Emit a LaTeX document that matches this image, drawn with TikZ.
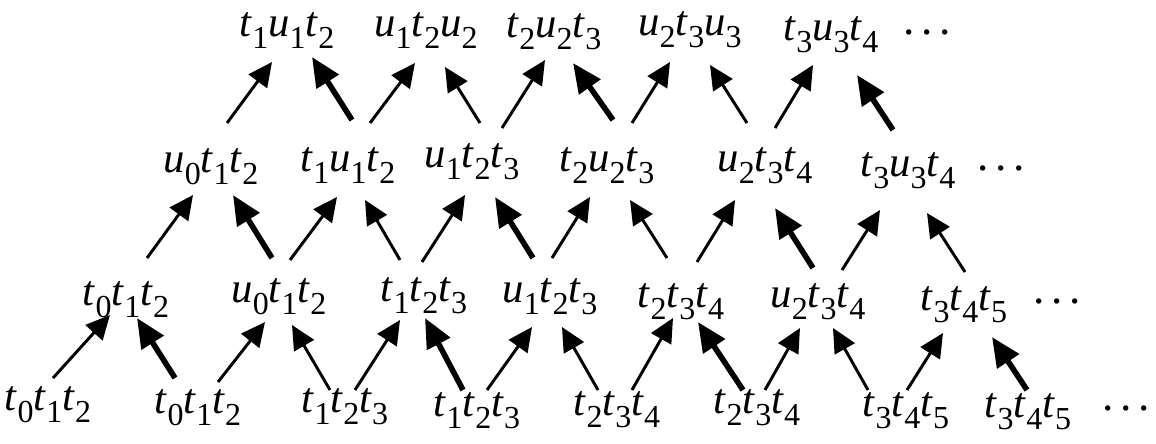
\documentclass[tikz,border=0pt]{standalone}
\usepackage{fontspec}
\usepackage{graphicx}
\setmainfont{Liberation Serif}
\usetikzlibrary{arrows.meta}
\newcommand{\sbx}[1]{\raisebox{-9.5pt}{\fontsize{24}{24}\selectfont #1}}
\newcommand{\tsub}[1]{\textit{t}\sbx{#1}}
\newcommand{\usub}[1]{\textit{u}\sbx{#1}}
\newcommand{\lbl}[1]{#1}
\newcommand{\dts}{\raisebox{4pt}{\fontsize{34}{34}\selectfont .\kern5pt.\kern5pt.}}
\tikzset{
  lab/.style={anchor=base, inner sep=0pt, font=\fontsize{32}{36}\selectfont},
  thinarr/.style={draw, line width=2.2pt, -{Triangle[length=18pt,width=17pt]}},
  thickarr/.style={draw, line width=4.2pt, -{Triangle[length=22pt,width=19pt]}},
}
\begin{document}
\begin{tikzpicture}[x=0.75pt,y=-0.75pt]
\useasboundingbox (0,0) rectangle (1156,443);
% row 1
\node[lab] (r10) at (287,36) {\lbl{\tsub{1}\usub{1}\tsub{2}}};
\node[lab] (r11) at (426,36) {\lbl{\usub{1}\tsub{2}\usub{2}}};
\node[lab] (r12) at (554,37) {\lbl{\tsub{2}\usub{2}\tsub{3}}};
\node[lab] (r13) at (690,35) {\lbl{\usub{2}\tsub{3}\usub{3}}};
\node[lab] (r14) at (831,40) {\lbl{\tsub{3}\usub{3}\tsub{4}}};
\node[lab] (r1d) at (927,40) {\dts};
% row 2
\node[lab] (r20) at (211,172) {\lbl{\usub{0}\tsub{1}\tsub{2}}};
\node[lab] (r21) at (348,171) {\lbl{\tsub{1}\usub{1}\tsub{2}}};
\node[lab] (r22) at (472,167) {\lbl{\usub{1}\tsub{2}\tsub{3}}};
\node[lab] (r23) at (607,171) {\lbl{\tsub{2}\usub{2}\tsub{3}}};
\node[lab] (r24) at (765,171) {\lbl{\usub{2}\tsub{3}\tsub{4}}};
\node[lab] (r25) at (908,176) {\lbl{\tsub{3}\usub{3}\tsub{4}}};
\node[lab] (r2d) at (1001,176) {\dts};
% row 3
\node[lab] (r30) at (126,305) {\lbl{\tsub{0}\tsub{1}\tsub{2}}};
\node[lab] (r31) at (279,302) {\lbl{\usub{0}\tsub{1}\tsub{2}}};
\node[lab] (r32) at (424,301) {\lbl{\tsub{1}\tsub{2}\tsub{3}}};
\node[lab] (r33) at (550,302) {\lbl{\usub{1}\tsub{2}\tsub{3}}};
\node[lab] (r34) at (681,307) {\lbl{\tsub{2}\tsub{3}\tsub{4}}};
\node[lab] (r35) at (818,307) {\lbl{\usub{2}\tsub{3}\tsub{4}}};
\node[lab] (r36) at (964,310) {\lbl{\tsub{3}\tsub{4}\tsub{5}}};
\node[lab] (r3d) at (1057,309) {\dts};
% row 4
\node[lab] (r40) at (48,410) {\lbl{\tsub{0}\tsub{1}\tsub{2}}};
\node[lab] (r41) at (198,413) {\lbl{\tsub{0}\tsub{1}\tsub{2}}};
\node[lab] (r42) at (345,412) {\lbl{\tsub{1}\tsub{2}\tsub{3}}};
\node[lab] (r43) at (477,416) {\lbl{\tsub{1}\tsub{2}\tsub{3}}};
\node[lab] (r44) at (617,415) {\lbl{\tsub{2}\tsub{3}\tsub{4}}};
\node[lab] (r45) at (757,413) {\lbl{\tsub{2}\tsub{3}\tsub{4}}};
\node[lab] (r46) at (906,416) {\lbl{\tsub{3}\tsub{4}\tsub{5}}};
\node[lab] (r47) at (1028,417) {\lbl{\tsub{3}\tsub{4}\tsub{5}}};
\node[lab] (r4d) at (1126,416) {\dts};
% row 4 -> row 3
\draw[thinarr]  ([shift={(5,-32)}]r40.base)   -- ([shift={(-16,10)}]r30.base);
\draw[thickarr] ([shift={(-23,-35)}]r41.base) -- ([shift={(11,13)}]r30.base);
\draw[thinarr]  ([shift={(20,-31)}]r41.base)  -- ([shift={(-14,20)}]r31.base);
\draw[thinarr]  ([shift={(-15,-22)}]r42.base) -- ([shift={(13,23)}]r31.base);
\draw[thinarr]  ([shift={(10,-22)}]r42.base)  -- ([shift={(-24,19)}]r32.base);
\draw[thickarr] ([shift={(-14,-26)}]r43.base) -- ([shift={(1,17)}]r32.base);
\draw[thinarr]  ([shift={(10,-26)}]r43.base)  -- ([shift={(-18,25)}]r33.base);
\draw[thinarr]  ([shift={(-19,-25)}]r44.base) -- ([shift={(12,25)}]r33.base);
\draw[thinarr]  ([shift={(15,-25)}]r44.base)  -- ([shift={(-8,11)}]r34.base);
\draw[thickarr] ([shift={(-14,-23)}]r45.base) -- ([shift={(17,15)}]r34.base);
\draw[thinarr]  ([shift={(8,-23)}]r45.base)   -- ([shift={(-18,21)}]r35.base);
\draw[thinarr]  ([shift={(-38,-26)}]r46.base) -- ([shift={(15,21)}]r35.base);
\draw[thinarr]  ([shift={(1,-26)}]r46.base)   -- ([shift={(-21,23)}]r36.base);
\draw[thickarr] ([shift={(-1,-27)}]r47.base)  -- ([shift={(28,27)}]r36.base);
% row 3 -> row 2
\draw[thinarr]  ([shift={(21,-47)}]r30.base)  -- ([shift={(-18,23)}]r20.base);
\draw[thickarr] ([shift={(-7,-44)}]r31.base)  -- ([shift={(22,23)}]r20.base);
\draw[thinarr]  ([shift={(11,-42)}]r31.base)  -- ([shift={(-11,26)}]r21.base);
\draw[thinarr]  ([shift={(-24,-41)}]r32.base) -- ([shift={(17,29)}]r21.base);
\draw[thinarr]  ([shift={(-2,-39)}]r32.base)  -- ([shift={(-7,28)}]r22.base);
\draw[thickarr] ([shift={(-17,-44)}]r33.base) -- ([shift={(23,30)}]r22.base);
\draw[thinarr]  ([shift={(2,-44)}]r33.base)   -- ([shift={(-17,26)}]r23.base);
\draw[thinarr]  ([shift={(-14,-49)}]r34.base) -- ([shift={(23,29)}]r23.base);
\draw[thinarr]  ([shift={(16,-45)}]r34.base)  -- ([shift={(-30,29)}]r24.base);
\draw[thickarr] ([shift={(-5,-39)}]r35.base)  -- ([shift={(10,37)}]r24.base);
\draw[thinarr]  ([shift={(24,-37)}]r35.base)  -- ([shift={(-28,34)}]r25.base);
\draw[thinarr]  ([shift={(1,-38)}]r36.base)   -- ([shift={(19,37)}]r25.base);
% row 2 -> row 1
\draw[thinarr]  ([shift={(16,-49)}]r20.base)  -- ([shift={(-15,26)}]r10.base);
\draw[thickarr] ([shift={(4,-51)}]r21.base)   -- ([shift={(25,21)}]r10.base);
\draw[thinarr]  ([shift={(22,-48)}]r21.base)  -- ([shift={(-11,27)}]r11.base);
\draw[thinarr]  ([shift={(8,-44)}]r22.base)   -- ([shift={(19,31)}]r11.base);
\draw[thinarr]  ([shift={(30,-39)}]r22.base)  -- ([shift={(-9,23)}]r12.base);
\draw[thickarr] ([shift={(6,-51)}]r23.base)   -- ([shift={(19,26)}]r12.base);
\draw[thinarr]  ([shift={(25,-48)}]r23.base)  -- ([shift={(-20,27)}]r13.base);
\draw[thinarr]  ([shift={(-18,-48)}]r24.base) -- ([shift={(20,30)}]r13.base);
\draw[thinarr]  ([shift={(10,-43)}]r24.base)  -- ([shift={(-18,25)}]r14.base);
\draw[thickarr] ([shift={(-15,-46)}]r25.base) -- ([shift={(26,35)}]r14.base);
\end{tikzpicture}
\end{document}
